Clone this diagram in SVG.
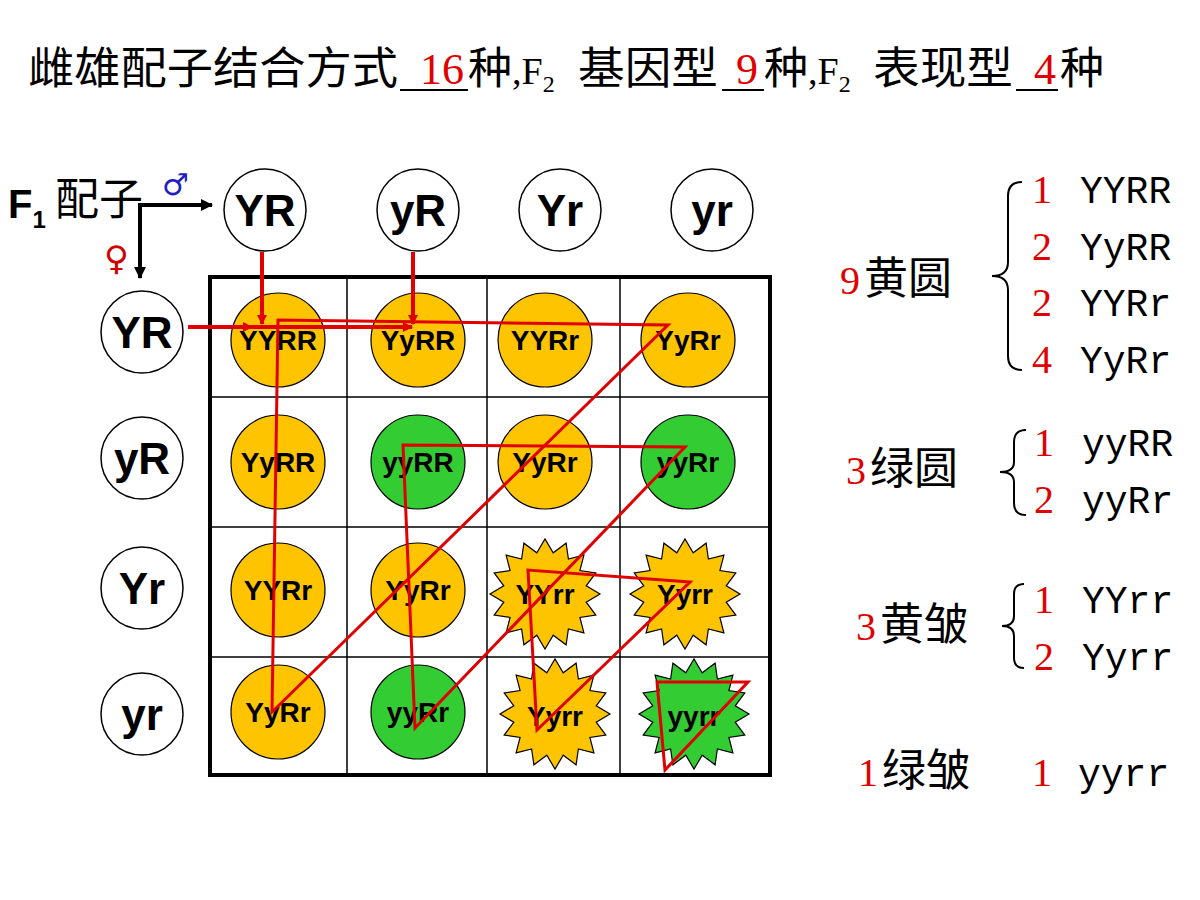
<svg xmlns="http://www.w3.org/2000/svg" width="1200" height="900" viewBox="0 0 1200 900">
<style>
.t{font-family:"Noto Sans CJK SC",sans-serif;font-size:44px;fill:#000}
.n{font-family:"Liberation Serif",serif;font-size:44px;fill:#e00000}
.s{font-family:"Liberation Serif",serif;font-size:38px;fill:#000}
.r{fill:#e00000}
.g{font-family:"Liberation Sans",Arial,sans-serif;font-weight:bold;font-size:44px;text-anchor:middle;fill:#000}
.c{font-family:"Liberation Sans",Arial,sans-serif;font-weight:bold;font-size:28px;text-anchor:middle;fill:#000}
.wc{fill:#fff;stroke:#000;stroke-width:1.5}
.y{fill:#ffc400;stroke:#000;stroke-width:1.2}
.gr{fill:#33cc33;stroke:#000;stroke-width:1.2}
.rt{font-family:"Liberation Mono",monospace;font-size:38px;fill:#000}
.rn{font-family:"Liberation Serif",serif;font-size:40px;fill:#e00000}
.cj{font-family:"Noto Sans CJK SC",sans-serif;font-size:44px;fill:#000}
.br{fill:none;stroke:#000;stroke-width:2}
.rl{fill:none;stroke:#e00000;stroke-width:3}
</style>
<defs>
<path id="star" d="M55,0 L41.2,8.2 L50.8,21.1 L34.9,23.4 L38.9,38.9 L23.4,34.9 L21.1,50.8 L8.2,41.2 L0,55 L-8.2,41.2 L-21.1,50.8 L-23.4,34.9 L-38.9,38.9 L-34.9,23.4 L-50.8,21.1 L-41.2,8.2 L-55,0 L-41.2,-8.2 L-50.8,-21.1 L-34.9,-23.4 L-38.9,-38.9 L-23.4,-34.9 L-21.1,-50.8 L-8.2,-41.2 L0,-55 L8.2,-41.2 L21.1,-50.8 L23.4,-34.9 L38.9,-38.9 L34.9,-23.4 L50.8,-21.1 L41.2,-8.2 Z"/>
<marker id="ar" markerWidth="10" markerHeight="10" refX="9" refY="5" orient="auto" markerUnits="userSpaceOnUse"><path d="M0,0 L10,5 L0,10 Z" fill="#e00000"/></marker>
<marker id="ab" markerWidth="12" markerHeight="12" refX="11" refY="6" orient="auto" markerUnits="userSpaceOnUse"><path d="M0,0 L12,6 L0,12 Z" fill="#000"/></marker>
</defs>
<rect width="1200" height="900" fill="#fff"/>
<g id="title">
<text class="t" x="28" y="84" textLength="370" lengthAdjust="spacingAndGlyphs">雌雄配子结合方式</text>
<text class="n" x="420" y="84">16</text>
<text class="t" x="468" y="84">种</text>
<text class="s" x="512" y="84">,F<tspan font-size="24" dy="8">2</tspan></text>
<text class="t" x="578" y="84" textLength="140" lengthAdjust="spacingAndGlyphs">基因型</text>
<text class="n" x="736" y="84">9</text>
<text class="t" x="764" y="84">种</text>
<text class="s" x="808" y="84">,F<tspan font-size="24" dy="8">2</tspan></text>
<text class="t" x="873" y="84" textLength="140" lengthAdjust="spacingAndGlyphs">表现型</text>
<text class="n" x="1034" y="84">4</text>
<text class="t" x="1060" y="84">种</text>
<line x1="400" y1="90" x2="468" y2="90" stroke="#000" stroke-width="2"/>
<line x1="722" y1="90" x2="764" y2="90" stroke="#000" stroke-width="2"/>
<line x1="1016" y1="90" x2="1058" y2="90" stroke="#000" stroke-width="2"/>
</g>
<g id="f1label">
<text x="8" y="218" font-family="Liberation Sans,sans-serif" font-weight="bold" font-size="40">F<tspan font-size="24" dy="10">1</tspan></text>
<text x="55" y="215" class="cj" font-size="40">配子</text>
<text x="162" y="195" font-family="DejaVu Sans,sans-serif" font-size="30" fill="#2020c0">♂</text>
<text x="104" y="270" font-family="DejaVu Sans,sans-serif" font-size="34" fill="#d00000">♀</text>
</g>
<g id="grid">
<rect x="210" y="277" width="560" height="498" fill="#fff" stroke="#000" stroke-width="4"/>
<path d="M347,277V775M487,277V775M620,277V775M210,397H770M210,527H770M210,657H770" stroke="#000" stroke-width="1.5"/>
</g>
<g id="gametes">
<circle class="wc" cx="265" cy="210" r="41"/><text class="g" x="265" y="226">YR</text>
<circle class="wc" cx="418" cy="210" r="41"/><text class="g" x="418" y="226">yR</text>
<circle class="wc" cx="560" cy="210" r="41"/><text class="g" x="560" y="226">Yr</text>
<circle class="wc" cx="712" cy="210" r="41"/><text class="g" x="712" y="226">yr</text>
<circle class="wc" cx="142" cy="332" r="41"/><text class="g" x="142" y="348">YR</text>
<circle class="wc" cx="142" cy="458" r="41"/><text class="g" x="142" y="474">yR</text>
<circle class="wc" cx="142" cy="588" r="41"/><text class="g" x="142" y="604">Yr</text>
<circle class="wc" cx="142" cy="714" r="41"/><text class="g" x="142" y="730">yr</text>
</g>
<g id="cells">
<circle class="y" cx="278" cy="340" r="47"/><text class="c" x="278" y="350">YYRR</text>
<circle class="y" cx="418" cy="340" r="47"/><text class="c" x="418" y="350">YyRR</text>
<circle class="y" cx="545" cy="340" r="47"/><text class="c" x="545" y="350">YYRr</text>
<circle class="y" cx="688" cy="340" r="47"/><text class="c" x="688" y="350">YyRr</text>
<circle class="y" cx="278" cy="462" r="47"/><text class="c" x="278" y="472">YyRR</text>
<circle class="gr" cx="418" cy="462" r="47"/><text class="c" x="418" y="472">yyRR</text>
<circle class="y" cx="545" cy="462" r="47"/><text class="c" x="545" y="472">YyRr</text>
<circle class="gr" cx="688" cy="462" r="47"/><text class="c" x="688" y="472">yyRr</text>
<circle class="y" cx="278" cy="590" r="47"/><text class="c" x="278" y="600">YYRr</text>
<circle class="y" cx="418" cy="590" r="47"/><text class="c" x="418" y="600">YyRr</text>
<use href="#star" class="y" x="545" y="594"/><text class="c" x="545" y="604">YYrr</text>
<use href="#star" class="y" x="685" y="594"/><text class="c" x="685" y="604">Yyrr</text>
<use href="#star" class="y" x="555" y="714"/><text class="c" x="555" y="726">Yyrr</text>
<use href="#star" class="gr" x="694" y="714"/><text class="c" x="694" y="726">yyrr</text>
<circle class="y" cx="278" cy="712" r="47"/><text class="c" x="278" y="722">YyRr</text>
<circle class="gr" cx="418" cy="712" r="47"/><text class="c" x="418" y="722">yyRr</text>
</g>
<g id="connectors">
<path d="M140,270V205H212" fill="none" stroke="#000" stroke-width="4" marker-end="url(#ab)"/>
<line x1="140" y1="240" x2="140" y2="278" stroke="#000" stroke-width="4" marker-end="url(#ab)"/>
<line x1="262" y1="252" x2="262" y2="324" stroke="#e00000" stroke-width="4" marker-end="url(#ar)"/>
<line x1="413" y1="252" x2="413" y2="324" stroke="#e00000" stroke-width="4" marker-end="url(#ar)"/>
<line x1="188" y1="327" x2="252" y2="327" stroke="#e00000" stroke-width="4" marker-end="url(#ar)"/>
<line x1="250" y1="327" x2="412" y2="327" stroke="#e00000" stroke-width="4" marker-end="url(#ar)"/>
<path class="rl" d="M272,712 L278,320 L668,325 Z"/>
<path class="rl" d="M415,728 L403,445 L685,447 Z"/>
<path class="rl" d="M537,730 L528,570 L690,582 Z"/>
<path class="rl" d="M665,770 L657,682 L748,682 Z"/>
</g>
<g id="legend">
<text class="cj" x="864" y="294">黄圆</text><text class="rn" x="840" y="294" font-size="44">9</text>
<path class="br" d="M1022,182 Q1008,182 1008,196 V262 Q1008,276 992,276 Q1008,276 1008,290 V356 Q1008,370 1022,370"/>
<text class="rn" x="1032" y="203">1</text><text class="rt" x="1080" y="203">YYRR</text>
<text class="rn" x="1032" y="260">2</text><text class="rt" x="1080" y="260">YyRR</text>
<text class="rn" x="1032" y="316">2</text><text class="rt" x="1080" y="316">YYRr</text>
<text class="rn" x="1032" y="373">4</text><text class="rt" x="1080" y="373">YyRr</text>
<text class="cj" x="870" y="484">绿圆</text><text class="rn" x="846" y="484" font-size="44">3</text>
<path class="br" d="M1026,430 Q1014,430 1014,442 V462 Q1014,472 1000,472 Q1014,472 1014,482 V503 Q1014,515 1026,515"/>
<text class="rn" x="1034" y="456">1</text><text class="rt" x="1082" y="456">yyRR</text>
<text class="rn" x="1034" y="513">2</text><text class="rt" x="1082" y="513">yyRr</text>
<text class="cj" x="880" y="640">黄皱</text><text class="rn" x="856" y="640" font-size="44">3</text>
<path class="br" d="M1024,584 Q1014,584 1014,594 V616 Q1014,626 1002,626 Q1014,626 1014,636 V658 Q1014,668 1024,668"/>
<text class="rn" x="1034" y="613">1</text><text class="rt" x="1082" y="613">YYrr</text>
<text class="rn" x="1034" y="670">2</text><text class="rt" x="1082" y="670">Yyrr</text>
<text class="cj" x="882" y="786">绿皱</text><text class="rn" x="858" y="786" font-size="44">1</text>
<text class="rn" x="1032" y="786">1</text><text class="rt" x="1078" y="786">yyrr</text>
</g>
</svg>
